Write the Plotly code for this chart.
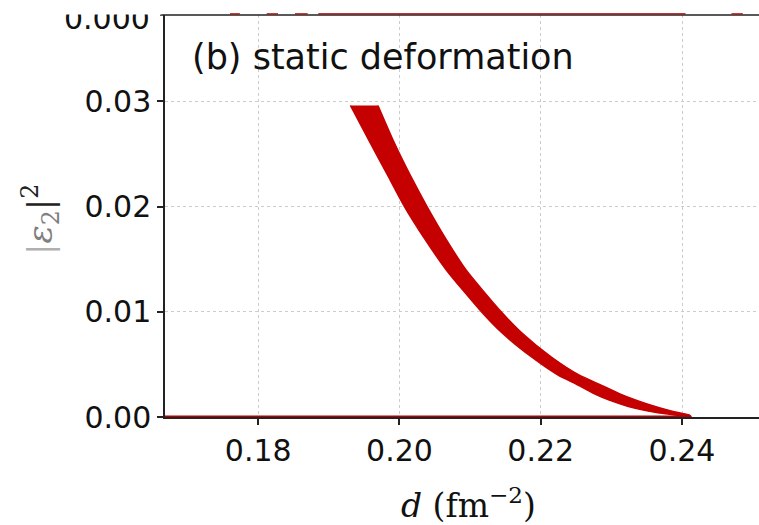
import plotly.graph_objects as go

# ---- data ----
# |eps_2|^2 levels, band centre in d and band half-width in d at each level
eps_vals = [0.0296, 0.0260, 0.0230, 0.0200, 0.0170, 0.0140, 0.0100, 0.0080,
            0.0057, 0.0040, 0.0032, 0.0022, 0.0016, 0.0010, 0.0007, 0.0004,
            0.0002, 0.0000]
d_centre = [0.1950, 0.1976, 0.1999, 0.2023, 0.2050, 0.2080, 0.2130, 0.2159,
            0.2201, 0.2239, 0.2264, 0.2294, 0.2316, 0.2343, 0.2360, 0.2381,
            0.2400, 0.2413]
d_halfw = [0.00195, 0.0017, 0.0016, 0.0016, 0.0015, 0.0014, 0.0014, 0.0014,
           0.0014, 0.0015, 0.0016, 0.0018, 0.0019, 0.0019, 0.0018, 0.0015,
           0.0010, 0.0000]

# spherical (eps=0) branch
sph_d = [0.1668, 0.2413]
sph_eps = [0.0, 0.0]

# zero-line segments of the panel above (a), visible at the top edge
panel_a_segments = [(0.1760, 0.1774), (0.1812, 0.1828), (0.1852, 0.1870),
                    (0.1885, 0.2405), (0.2470, 0.2486)]

x_ticks = [0.18, 0.20, 0.22, 0.24]
x_tick_labels = ["0.18", "0.20", "0.22", "0.24"]
y_ticks = [0.00, 0.01, 0.02, 0.03]
y_tick_labels = ["0.00", "0.01", "0.02", "0.03"]

RED = "#c40000"

d_left = [c - h for c, h in zip(d_centre, d_halfw)]
d_right = [c + h for c, h in zip(d_centre, d_halfw)]

fig = go.Figure()

poly_x = d_left + d_right[::-1]
poly_y = eps_vals + eps_vals[::-1]
fig.add_trace(go.Scatter(x=poly_x, y=poly_y, mode="lines", fill="toself",
                         fillcolor=RED, line=dict(color=RED, width=1.5, shape="spline", smoothing=0.6),
                         hoverinfo="skip", showlegend=False))
fig.add_trace(go.Scatter(x=sph_d, y=sph_eps, mode="lines",
                         line=dict(color="#b00000", width=3),
                         hoverinfo="skip", showlegend=False, cliponaxis=False))

shapes = []
# top spine (bottom spine of panel above)
shapes.append(dict(type="line", xref="paper", yref="paper", x0=-0.0084, x1=1,
                   y0=1, y1=1, line=dict(color="#222", width=1.5), layer="above"))
for a, b in panel_a_segments:
    shapes.append(dict(type="line", xref="x", yref="paper", x0=a, x1=b,
                       y0=1.003, y1=1.003, line=dict(color="#b00000", width=1.5),
                       opacity=0.8, layer="above"))

axis_font = dict(family="DejaVu Sans", size=30, color="#111")

fig.update_layout(
    width=759, height=525,
    margin=dict(l=165, r=0, t=15, b=108),
    paper_bgcolor="white", plot_bgcolor="white",
    shapes=shapes,
    xaxis=dict(range=[0.1668, 0.2509], tickvals=x_ticks, ticktext=x_tick_labels,
               showgrid=True, gridcolor="#cccccc", griddash="dot", gridwidth=1,
               showline=True, linecolor="#222", linewidth=1.5,
               ticks="outside", ticklen=6, tickwidth=1.5, tickcolor="#222",
               tickfont=axis_font, zeroline=False),
    yaxis=dict(range=[0, 0.0382], tickvals=y_ticks, ticktext=y_tick_labels,
               showgrid=True, gridcolor="#cccccc", griddash="dot", gridwidth=1,
               showline=True, linecolor="#222", linewidth=1.5,
               ticks="outside", ticklen=6, tickwidth=1.5, tickcolor="#222",
               tickfont=axis_font, zeroline=False),
    annotations=[
        dict(text="(b) static deformation", xref="paper", yref="paper",
             x=(190 - 165) / 594, y=(417 - 57) / 402, xanchor="left",
             yanchor="middle", showarrow=False,
             font=dict(family="DejaVu Sans", size=35, color="#111")),
        dict(text="<i>d</i> (fm<sup>−2</sup>)", xref="paper", yref="paper",
             x=(468 - 165) / 594, y=(417 - 503) / 402, xanchor="center",
             yanchor="middle", showarrow=False,
             font=dict(family="DejaVu Serif", size=33, color="#111")),
        dict(text="<span style='color:#b0b0b0'>|</span><span style='color:#808080'><i>ε</i><sub>2</sub></span>|<sup>2</sup>",
             xref="paper", yref="paper", textangle=-90,
             x=(40 - 165) / 594, y=(417 - 219) / 402, xanchor="center",
             yanchor="middle", showarrow=False,
             font=dict(family="DejaVu Serif", size=34, color="#222")),
        dict(text="0.000", xref="paper", yref="paper",
             x=(152 - 165) / 594, y=(417 - 18) / 402, xanchor="right",
             yanchor="middle", showarrow=False, font=axis_font),
        dict(text=" ", xref="paper", yref="paper",
             x=(0 - 165) / 594, y=(417 - 0) / 402, xanchor="left",
             yanchor="top", showarrow=False, width=160, height=13,
             bgcolor="white", borderpad=0, font=dict(size=1)),
    ],
)

fig.write_html("out.html")
